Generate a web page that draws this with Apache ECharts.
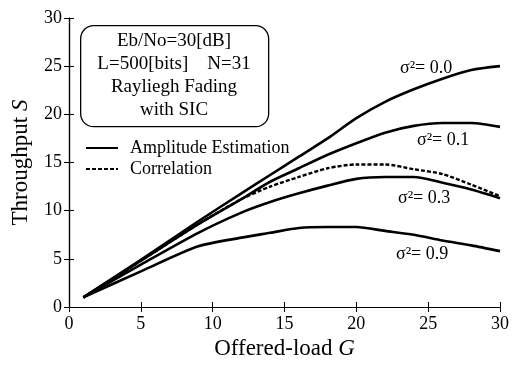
<!DOCTYPE html>
<html>
<head>
<meta charset="utf-8">
<script src="https://cdn.jsdelivr.net/npm/echarts@6/dist/echarts.min.js"></script>
<style>
  html, body { margin: 0; padding: 0; background: #fff; }
  #chart { width: 512px; height: 366px; }
</style>
</head>
<body>
<div id="chart"></div>
<script>
// Offered load grid shared by every curve
const G = [1, 5, 9, 12, 14, 16, 18, 20, 22, 24, 26, 28, 30];

// Throughput S, amplitude estimation, per sigma^2
const S_00 = [1.0, 4.9, 8.9, 11.8, 13.7, 15.6, 17.5, 19.6, 21.3, 22.6, 23.7, 24.6, 25.0];
const S_01 = [1.0, 4.8, 8.6, 11.2, 13.0, 14.4, 15.8, 17.0, 18.1, 18.8, 19.1, 19.1, 18.7];
const S_03 = [1.0, 4.4, 7.7, 9.8, 10.9, 11.8, 12.6, 13.3, 13.5, 13.5, 12.9, 12.2, 11.3];
const S_09 = [1.0, 3.7, 6.3, 7.2, 7.7, 8.2, 8.3, 8.3, 7.9, 7.5, 6.9, 6.4, 5.8];
// Correlation receiver
const S_CORR = [1.0, 4.8, 8.6, 11.2, 12.5, 13.5, 14.4, 14.8, 14.8, 14.3, 13.8, 12.7, 11.5];

const SIGMA_LABELS = ['σ²= 0.0', 'σ²= 0.1', 'σ²= 0.3', 'σ²= 0.9'];
const BOX_LINES = ['Eb/No=30[dB]', 'L=500[bits]    N=31', 'Rayliegh Fading', 'with SIC'];

const SERIF = "'Liberation Serif', 'DejaVu Serif', serif";
const pairs = (ys) => G.map((g, i) => [g, ys[i]]);

const chart = echarts.init(document.getElementById('chart'), null, { renderer: 'canvas' });

const solid = (ys) => ({
  name: 'Amplitude Estimation',
  type: 'line',
  smooth: 0.25,
  symbol: 'none',
  data: pairs(ys),
  itemStyle: { color: '#000' },
  lineStyle: { color: '#000', width: 2.6 },
  z: 3,
});

// inward ticks on all four sides, like the paper figure
const axisCommon = {
  type: 'value',
  min: 0,
  max: 30,
  interval: 5,
  axisLine: { show: true, lineStyle: { color: '#000', width: 1.2 } },
  axisTick: { show: true, inside: true, length: 5, lineStyle: { color: '#000' } },
  splitLine: { show: false },
};

const axisName = {
  rich: {
    a: { fontFamily: SERIF, fontSize: 23, color: '#000' },
    b: { fontFamily: SERIF, fontSize: 23, color: '#000', fontStyle: 'italic' },
  },
};

chart.setOption({
  animation: false,
  backgroundColor: '#fff',
  grid: { left: 69, right: 10, top: 18, bottom: 59 },
  legend: {
    orient: 'vertical',
    left: 80,
    top: 134,
    itemWidth: 32,
    itemHeight: 14,
    itemGap: 3,
    data: ['Amplitude Estimation', 'Correlation'],
    itemStyle: { opacity: 0 },
    textStyle: { fontFamily: SERIF, fontSize: 18, color: '#000', padding: [0, 0, 0, 7] },
  },
  xAxis: [
    {
      ...axisCommon,
      position: 'bottom',
      axisLabel: { color: '#000', fontFamily: SERIF, fontSize: 18, margin: 8 },
      name: '{a|Offered-load }{b|G}',
      nameLocation: 'middle',
      nameGap: 30,
      nameTextStyle: axisName,
    },
    { ...axisCommon, position: 'top', axisLabel: { show: false } },
  ],
  yAxis: [
    {
      ...axisCommon,
      position: 'left',
      axisLabel: { color: '#000', fontFamily: SERIF, fontSize: 18, margin: 7 },
      name: '{a|Throughput }{b|S}',
      nameLocation: 'middle',
      nameGap: 37,
      nameTextStyle: axisName,
    },
    { ...axisCommon, position: 'right', axisLabel: { show: false } },
  ],
  series: [
    solid(S_00),
    solid(S_01),
    solid(S_03),
    solid(S_09),
    {
      name: 'Correlation',
      type: 'line',
      smooth: 0.25,
      symbol: 'none',
      data: pairs(S_CORR),
      itemStyle: { color: '#000' },
      lineStyle: { color: '#000', width: 2.4, type: [4, 2] },
      z: 2,
    },
  ],
  graphic: [
    {
      type: 'rect',
      left: 80,
      top: 25,
      shape: { width: 188, height: 101, r: 13 },
      style: { fill: '#fff', stroke: '#000', lineWidth: 1.3 },
      z: 10,
    },
    {
      type: 'text',
      x: 174,
      y: 30,
      style: {
        text: BOX_LINES.join('\n'),
        fontFamily: SERIF,
        fontSize: 19,
        lineHeight: 23,
        fill: '#000',
        align: 'center',
        verticalAlign: 'top',
      },
      z: 11,
    },
    ...SIGMA_LABELS.map((t, i) => ({
      type: 'text',
      left: [400, 417, 398, 396][i],
      top: [59, 131, 189, 245][i],
      style: { text: t, fontFamily: SERIF, fontSize: 18, fill: '#000' },
      z: 11,
    })),
  ],
});
</script>
</body>
</html>
